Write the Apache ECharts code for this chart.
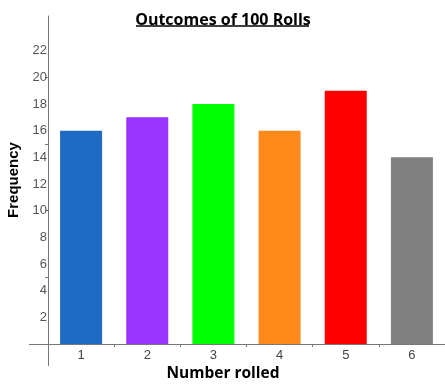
<!DOCTYPE html>
<html><head><meta charset="utf-8">
<script src="https://cdn.jsdelivr.net/npm/echarts@6/dist/echarts.min.js"></script>
<style>html,body{margin:0;padding:0;background:#fff}#c{width:445px;height:385px}</style>
</head><body><div id="c"></div>
<script>
const categories = ['1','2','3','4','5','6'];
const frequencies = [16, 17, 18, 16, 19, 14];
const barColors = ['#1f6bc4','#9933ff','#00ff00','#ff8a1c','#ff0000','#808080'];
const yTickLabels = [2,4,6,8,10,12,14,16,18,20,22];
const yMinorTicks = [5,10,15,20];

const chart = echarts.init(document.getElementById('c'), null, {renderer:'canvas'});
chart.setOption({
  animation:false,
  title:[{
    text:'Outcomes of 100 Rolls', left:218, top:7, textAlign:'center',
    textStyle:{fontFamily:'Open Sans', fontWeight:'bold', fontSize:16, color:'#000'}
  },{
    text:'Number rolled', left:218, top:361, textAlign:'center',
    textStyle:{fontFamily:'Open Sans', fontWeight:'bold', fontSize:15.5, color:'#000'}
  }],
  graphic:[
    {type:'line', shape:{x1:136,y1:26,x2:309,y2:26}, style:{stroke:'#000', lineWidth:1.5}},
    {type:'line', shape:{x1:29,y1:344.5,x2:48,y2:344.5}, style:{stroke:'#777', lineWidth:1}},
    {type:'line', shape:{x1:48.5,y1:344,x2:48.5,y2:366}, style:{stroke:'#777', lineWidth:1}}
  ],
  grid:{left:48, right:0, top:16, bottom:41, outerBoundsMode:'none', containLabel:false},
  xAxis:{
    type:'category', data:categories,
    axisLine:{lineStyle:{color:'#777', width:1}},
    axisTick:{show:true, length:3, lineStyle:{color:'#777'}},
    axisLabel:{color:'#444', fontFamily:'Liberation Sans', fontSize:13, margin:5}
  },
  yAxis:{
    type:'value', min:0, max:24.6,
    name:'Frequency', nameLocation:'middle', nameGap:27,
    nameTextStyle:{fontFamily:'Liberation Sans', fontWeight:'bold', fontSize:15, color:'#000'},
    splitLine:{show:false},
    axisLine:{show:true, lineStyle:{color:'#777', width:1}},
    axisTick:{show:true, length:3, customValues:yMinorTicks, lineStyle:{color:'#777'}},
    axisLabel:{show:true, customValues:yTickLabels, color:'#555', fontFamily:'Liberation Sans', fontSize:13, margin:1}
  },
  series:[{
    type:'bar', data:frequencies.map((v,i)=>({value:v, itemStyle:{color:barColors[i]}})),
    barWidth:42
  }]
});
</script></body></html>
